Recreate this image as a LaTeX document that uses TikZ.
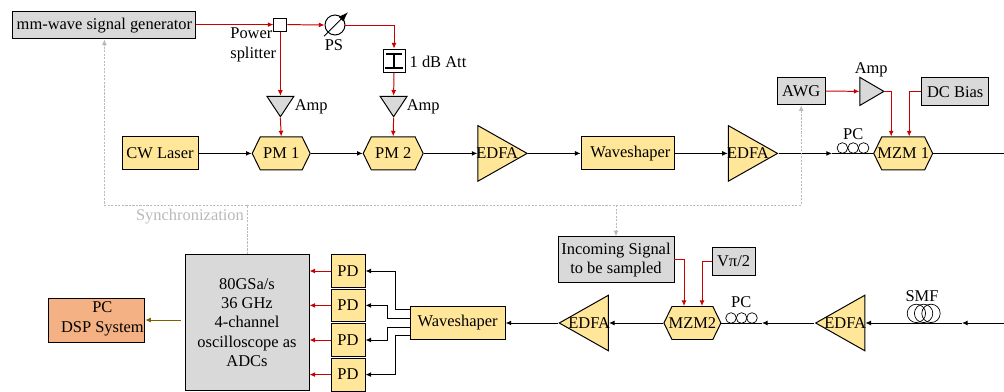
\documentclass[tikz,border=0pt]{standalone}
\usepackage{fontspec}
\setmainfont{Liberation Serif}
\definecolor{boxyellow}{RGB}{255, 230, 153}
\definecolor{boxgray}{RGB}{217, 217, 217}
\definecolor{boxorange}{RGB}{244, 177, 131}
\definecolor{rfred}{RGB}{200, 0, 0}
\definecolor{syncgray}{RGB}{185, 185, 185}
\definecolor{dspbrown}{RGB}{127, 96, 0}
\usetikzlibrary{shapes, shapes.geometric, shapes.symbols, arrows.meta, positioning, calc}
\tikzset{
  every node/.style={font=\fontsize{11.7}{13.8}\selectfont, inner sep=0pt},
  yellowbox/.style={draw, fill=boxyellow, line width=.7pt, minimum height=.825cm},
  graybox/.style={draw, fill=boxgray, line width=.7pt, align=center},
  hexbox/.style={signal, signal to=west and east, signal pointer angle=128, draw, fill=boxyellow, line width=.7pt, minimum height=.825cm},
  edfaright/.style={isosceles triangle, isosceles triangle stretches, draw, fill=boxyellow, line width=.7pt, minimum width=1.39cm, minimum height=1.23cm, anchor=apex},
  edfaleft/.style={edfaright, shape border rotate=180},
  ampdown/.style={isosceles triangle, isosceles triangle stretches, shape border rotate=-90, draw, fill=boxgray, line width=.7pt, minimum width=.675cm, minimum height=.51cm, anchor=apex},
  pdbox/.style={yellowbox, minimum width=.85cm, minimum height=.82cm},
  coil/.style={circle, draw, line width=.5pt, minimum size=.265cm},
  fiberloop/.style={circle, draw, line width=.5pt, minimum size=.46cm},
  optic/.style={-{Latex[length=4pt,width=3.5pt]}, line width=.7pt},
  rfline/.style={-{Latex[length=4pt,width=3.5pt]}, line width=.7pt, rfred},
  syncline/.style={dash pattern=on 1.5pt off 1pt, line width=.6pt, syncgray},
}

\begin{document}
\begin{tikzpicture}
  \useasboundingbox (0,0) rectangle (25.1,9.775);

  % RF source and upper branch
  \node[graybox, minimum width=4.575cm, minimum height=.675cm] (siggen) at (2.61, 9.14) {mm-wave signal generator};
  \node[draw, fill=white, line width=.7pt, minimum size=.325cm] (splitter) at (7.01, 9.16) {};
  \node[circle, draw, line width=.7pt, minimum size=.5cm] (ps) at (8.375, 9.15) {};
  \coordinate (psa) at (8.1, 8.87);
  \coordinate (psb) at (8.7, 9.47);
  \node (pslabel) at (8.35, 8.65) {PS};
  \node[align=left] (splitlabel) at (6.33, 8.65) {Power\\splitter};
  \node[draw, fill=white, line width=.7pt, minimum width=.55cm, minimum height=.575cm] (att) at (9.85, 8.26) {};
  \node (attlabel) at (10.95, 8.23) {1 dB Att};
  \node[ampdown] (amp1) at (7.01, 6.825) {};
  \node[ampdown] (amp2) at (9.84, 6.825) {};
  \node (amplabel1) at (7.78, 7.1) {Amp};
  \node (amplabel2) at (10.58, 7.1) {Amp};

  % Top optical path
  \node[yellowbox, minimum width=1.9cm] (laser) at (4, 5.94) {CW Laser};
  \node[hexbox, minimum width=1.45cm] (pm1) at (7.03, 5.94) {\makebox[0pt]{PM 1}};
  \node[hexbox, minimum width=1.5cm] (pm2) at (9.83, 5.94) {\makebox[0pt]{PM 2}};
  \node[edfaright] (edfa1) at (13.21, 5.94) {};
  \node (edfatext1) at (12.43, 5.94) {EDFA};
  \node[yellowbox, minimum width=2.325cm] (shaper1) at (15.69, 5.94) {\hspace*{4pt}Waveshaper};
  \node[edfaright] (edfa2) at (19.47, 5.94) {};
  \node (edfatext2) at (18.7, 5.94) {EDFA};
  \coordinate (pcin1) at (20.8, 5.94);
  \node[coil] (pc1a) at (21.06, 6.075) {};
  \node[coil] (pc1b) at (21.33, 6.075) {};
  \node[coil] (pc1c) at (21.59, 6.075) {};
  \node (pclabel1) at (21.33, 6.43) {PC};
  \node[hexbox, minimum width=1.475cm] (mzm1) at (22.58, 5.94) {\makebox[0pt]{MZM 1}};
  \coordinate (outright) at (25.1, 5.94);

  % MZM 1 drive
  \node[graybox, minimum width=1.2cm, minimum height=.69cm] (awg) at (20.03, 7.5) {AWG};
  \node[isosceles triangle, isosceles triangle stretches, draw, fill=boxgray, line width=.7pt, minimum width=.7cm, minimum height=.6cm, anchor=apex] (amp3) at (22.13, 7.49) {};
  \node (amplabel3) at (21.78, 8.03) {Amp};
  \node[graybox, minimum width=1.675cm, minimum height=.7cm] (dcbias) at (23.88, 7.48) {DC Bias};

  % Receiver
  \node[graybox, minimum width=3.1cm, minimum height=3.4cm] (osc) at (6.175, 1.71) {80GSa/s\\36 GHz\\4-channel\\oscilloscope as\\ADCs};
  \node[draw, fill=boxorange, line width=.7pt, minimum width=2.4cm, minimum height=1.1cm] (dsp) at (2.42, 1.775) {};
  \node[align=center] (dsptext) at (2.56, 1.8) {PC\\DSP System};
  \node[pdbox] (pd1) at (8.7, 3.0) {PD};
  \node[pdbox] (pd2) at (8.7, 2.14) {PD};
  \node[pdbox] (pd3) at (8.7, 1.275) {PD};
  \node[pdbox] (pd4) at (8.7, .41) {PD};
  \node[yellowbox, minimum width=2.375cm] (shaper2) at (11.44, 1.7) {Waveshaper};
  \node[edfaleft] (edfa3) at (13.95, 1.7) {};
  \node (edfatext3) at (14.73, 1.7) {EDFA};
  \node[hexbox, minimum width=1.425cm] (mzm2) at (17.31, 1.7) {\makebox[0pt]{MZM2}};
  \node[graybox, minimum width=2.9cm, minimum height=1.15cm] (incoming) at (15.4, 3.28) {Incoming Signal\\to be sampled};
  \node[graybox, minimum width=1.075cm, minimum height=.7cm] (vpi) at (18.34, 3.25) {Vπ/2};
  \node[coil] (pc2a) at (18.275, 1.825) {};
  \node[coil] (pc2b) at (18.54, 1.825) {};
  \node[coil] (pc2c) at (18.8, 1.825) {};
  \node (pclabel2) at (18.53, 2.225) {PC};
  \coordinate (pcin2) at (19.05, 1.7);
  \node[edfaleft] (edfa4) at (20.36, 1.7) {};
  \node (edfatext4) at (21.13, 1.7) {EDFA};
  \node[fiberloop] (smfa) at (22.91, 1.94) {};
  \node[fiberloop] (smfb) at (23.09, 1.94) {};
  \node[fiberloop] (smfc) at (23.275, 1.94) {};
  \node (smflabel) at (23.05, 2.375) {SMF};
  \coordinate (smfin) at (24.05, 1.7);
  \coordinate (inright) at (25.1, 1.7);

  % Attenuator symbol and phase shifter arrow
  \draw[line width=1pt] ([shift={(-.19,.17)}]att.center) -- ([shift={(.19,.17)}]att.center);
  \draw[line width=1pt] ([shift={(-.23,-.19)}]att.center) -- ([shift={(.23,-.19)}]att.center);
  \draw[line width=1pt] ([yshift=.17cm]att.center) -- ([yshift=-.19cm]att.center);
  \draw[line width=.7pt, -{Latex[length=7pt,width=5pt]}] (psa) -- (psb);

  % RF connections
  \draw[rfline] (siggen.east |- splitter) -- (splitter.west);
  \draw[rfline] (splitter.east) -- (ps.west);
  \draw[rfline] (ps.east) -| (att.north);
  \draw[rfline] (splitter.south) -- (amp1.lower side);
  \draw[rfline] (att.south) -- (amp2.lower side);
  \draw[rfline] (amp1.apex) -- (pm1.north);
  \draw[rfline] (amp2.apex) -- (pm2.north);
  \draw[rfline] (awg.east) -- (amp3.lower side);
  \draw[rfline] (amp3.apex) -| ([xshift=-.3cm]mzm1.north);
  \draw[rfline] (dcbias.west) -| ([xshift=.15cm]mzm1.north);
  \draw[rfline] (incoming.east) -| ([xshift=-.21cm]mzm2.north);
  \draw[rfline] (vpi.west) -| ([xshift=.24cm]mzm2.north);
  \draw[rfline] (pd1.west) -- (osc.east |- pd1);
  \draw[rfline] (pd2.west) -- (osc.east |- pd2);
  \draw[rfline] (pd3.west) -- (osc.east |- pd3);
  \draw[rfline] (pd4.west) -- (osc.east |- pd4);

  % Optical connections
  \draw[optic] (laser.east) -- (pm1.west);
  \draw[optic] (pm1.east) -- (pm2.west);
  \draw[optic] (pm2.east) -- (edfa1.lower side);
  \draw[optic] (edfa1.apex) -- (shaper1.west);
  \draw[optic] (shaper1.east) -- (edfa2.lower side);
  \draw[optic] (edfa2.apex) -- (pcin1);
  \draw[line width=.7pt] (pcin1) -- (mzm1.west);
  \draw[line width=.7pt] (mzm1.east) -- (outright);
  \draw[optic] (inright) -- (smfin);
  \draw[optic] (smfin) -- (edfa4.lower side);
  \draw[optic] (edfa4.apex) -- (pcin2);
  \draw[line width=.7pt] (pcin2) -- (mzm2.east);
  \draw[optic] (mzm2.west) -- (edfa3.lower side);
  \draw[optic] (edfa3.apex) -- (shaper2.east);
  \draw[optic] ([yshift=.35cm]shaper2.west) -| (9.875, 3.0) -- (pd1.east);
  \draw[optic] ([yshift=.12cm]shaper2.west) -| (9.675, 2.14) -- (pd2.east);
  \draw[optic] ([yshift=-.1cm]shaper2.west) -| (9.675, 1.275) -- (pd3.east);
  \draw[optic] ([yshift=-.3cm]shaper2.west) -| (9.875, .41) -- (pd4.east);
  \draw[-{Latex[length=4pt,width=3.5pt]}, line width=.6pt, dspbrown] ([xshift=-.1cm]osc.west |- dsp) -- (dsp.east);

  % Synchronization
  \coordinate (syncmid) at (6.175, 4.65);
  \draw[syncline, -{Latex[length=4pt,width=3.5pt]}] (syncmid) -| (siggen.south);
  \draw[syncline, -{Latex[length=4pt,width=3.5pt]}] (syncmid) -| (awg.south);
  \draw[syncline] (osc.north) -- (syncmid);
  \draw[syncline, -{Latex[length=4pt,width=3.5pt]}] (incoming.north |- syncmid) -- (incoming.north);
  \node[text=syncgray] (synclabel) at (4.75, 4.35) {Synchronization};
\end{tikzpicture}
\end{document}
